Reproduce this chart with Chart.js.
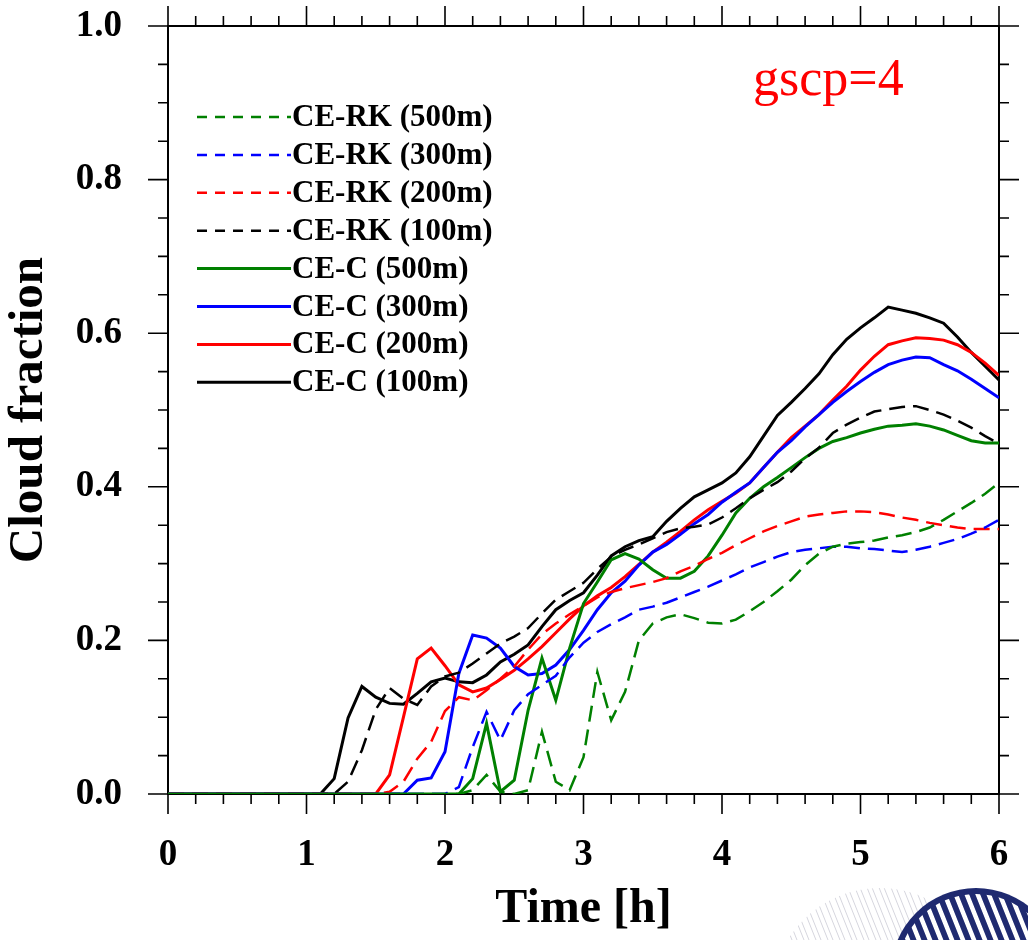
<!DOCTYPE html>
<html lang="en">
<head>
  <meta charset="UTF-8">
  <title>Cloud fraction, gscp=4</title>
  <script src="https://cdn.jsdelivr.net/npm/chart.js"></script>
  <style>
    body { margin: 0; background: #fff; }
    #wrap { width: 1028px; height: 940px; position: relative; }
  </style>
</head>
<body>

<div id="wrap"><canvas id="myChart"></canvas></div>

<script>
  // time axis [h], one value every 6 minutes
  const times = [
    0.0, 0.1, 0.2, 0.3, 0.4, 0.5, 0.6, 0.7, 0.8, 0.9,
    1.0, 1.1, 1.2, 1.3, 1.4, 1.5, 1.6, 1.7, 1.8, 1.9,
    2.0, 2.1, 2.2, 2.3, 2.4, 2.5, 2.6, 2.7, 2.8, 2.9,
    3.0, 3.1, 3.2, 3.3, 3.4, 3.5, 3.6, 3.7, 3.8, 3.9,
    4.0, 4.1, 4.2, 4.3, 4.4, 4.5, 4.6, 4.7, 4.8, 4.9,
    5.0, 5.1, 5.2, 5.3, 5.4, 5.5, 5.6, 5.7, 5.8, 5.9,
    6.0
  ];

  const xTicks = [0, 1, 2, 3, 4, 5, 6];
  const yTicks = [0.0, 0.2, 0.4, 0.6, 0.8, 1.0];

  // cloud fraction, CE-RK runs
  const ceRk500 = [
    0, 0, 0, 0, 0, 0, 0, 0, 0, 0,
    0, 0, 0, 0, 0, 0, 0, 0, 0, 0,
    0, 0, 0.005, 0.025, 0.003, 0, 0.005, 0.081, 0.016, 0.005,
    0.048, 0.159, 0.096, 0.133, 0.2, 0.222, 0.23, 0.234, 0.229, 0.223,
    0.222, 0.227, 0.238, 0.25, 0.264, 0.279, 0.298, 0.313, 0.322, 0.326,
    0.328, 0.33, 0.334, 0.337, 0.341, 0.347, 0.357, 0.368, 0.379, 0.391,
    0.405
  ];
  const ceRk300 = [
    0, 0, 0, 0, 0, 0, 0, 0, 0, 0,
    0, 0, 0, 0, 0, 0, 0, 0, 0, 0,
    0, 0.009, 0.061, 0.107, 0.07, 0.109, 0.13, 0.142, 0.154, 0.178,
    0.197, 0.211, 0.221, 0.23, 0.24, 0.244, 0.249, 0.256, 0.263, 0.27,
    0.278, 0.286, 0.295, 0.302, 0.309, 0.315, 0.318, 0.32, 0.322, 0.322,
    0.32, 0.319, 0.317, 0.315, 0.318, 0.322, 0.327, 0.332, 0.339, 0.347,
    0.357
  ];
  const ceRk200 = [
    0, 0, 0, 0, 0, 0, 0, 0, 0, 0,
    0, 0, 0, 0, 0, 0, 0.003, 0.016, 0.046, 0.068,
    0.108, 0.126, 0.122, 0.135, 0.15, 0.166, 0.188, 0.208, 0.222, 0.234,
    0.245, 0.256, 0.263, 0.268, 0.272, 0.276, 0.281, 0.29, 0.297, 0.306,
    0.314, 0.324, 0.333, 0.342, 0.349, 0.355, 0.361, 0.364, 0.366, 0.368,
    0.368, 0.367, 0.364, 0.36, 0.357, 0.353, 0.35, 0.347, 0.345, 0.345,
    0.345
  ];
  const ceRk100 = [
    0, 0, 0, 0, 0, 0, 0, 0, 0, 0,
    0, 0, 0, 0.016, 0.057, 0.11, 0.138, 0.124, 0.116, 0.14,
    0.153, 0.158, 0.17, 0.183, 0.196, 0.205, 0.216, 0.235, 0.253, 0.264,
    0.275, 0.293, 0.309, 0.318, 0.325, 0.333, 0.341, 0.346, 0.348, 0.351,
    0.36, 0.372, 0.385, 0.396, 0.406, 0.42, 0.437, 0.451, 0.47, 0.481,
    0.49, 0.498, 0.501, 0.504, 0.505, 0.5, 0.494, 0.486, 0.477, 0.466,
    0.456
  ];

  // cloud fraction, CE-C runs
  const ceC500 = [
    0, 0, 0, 0, 0, 0, 0, 0, 0, 0,
    0, 0, 0, 0, 0, 0, 0, 0, 0, 0,
    0, 0, 0.02, 0.092, 0.003, 0.018, 0.109, 0.177, 0.122, 0.19,
    0.248, 0.276, 0.305, 0.313, 0.306, 0.292, 0.281, 0.281, 0.29, 0.31,
    0.337, 0.366, 0.385, 0.4, 0.412, 0.425, 0.438, 0.45, 0.459, 0.464,
    0.47, 0.475, 0.479, 0.48, 0.482, 0.479, 0.474, 0.467, 0.46, 0.457,
    0.457
  ];
  const ceC300 = [
    0, 0, 0, 0, 0, 0, 0, 0, 0, 0,
    0, 0, 0, 0, 0, 0, 0, 0, 0.018, 0.021,
    0.055, 0.157, 0.207, 0.203, 0.19, 0.166, 0.155, 0.157, 0.168, 0.188,
    0.213, 0.24, 0.262, 0.277, 0.298, 0.315, 0.325, 0.338, 0.352, 0.364,
    0.38, 0.393, 0.405, 0.425, 0.445, 0.46, 0.478, 0.494, 0.51, 0.524,
    0.537, 0.549, 0.559, 0.565, 0.569, 0.568, 0.559, 0.551, 0.54, 0.528,
    0.516
  ];
  const ceC200 = [
    0, 0, 0, 0, 0, 0, 0, 0, 0, 0,
    0, 0, 0, 0, 0, 0, 0.025, 0.1, 0.176, 0.19,
    0.167, 0.142, 0.133, 0.138, 0.149, 0.161, 0.176, 0.192, 0.21, 0.228,
    0.245, 0.258, 0.269, 0.283, 0.299, 0.315, 0.328, 0.342, 0.357, 0.37,
    0.381, 0.392, 0.405, 0.425, 0.445, 0.464, 0.479, 0.494, 0.513, 0.531,
    0.552, 0.57, 0.585, 0.59, 0.594, 0.593, 0.591, 0.585, 0.575, 0.561,
    0.545
  ];
  const ceC100 = [
    0, 0, 0, 0, 0, 0, 0, 0, 0, 0,
    0, 0, 0.02, 0.099, 0.14, 0.126, 0.118, 0.117, 0.131, 0.146,
    0.151, 0.146, 0.145, 0.155, 0.172, 0.182, 0.194, 0.218, 0.24, 0.252,
    0.262, 0.285, 0.31, 0.322, 0.33, 0.335, 0.355, 0.372, 0.387, 0.396,
    0.405, 0.418, 0.439, 0.466, 0.493, 0.51, 0.528, 0.547, 0.572, 0.592,
    0.607, 0.62, 0.634, 0.63, 0.626, 0.62, 0.613, 0.595, 0.575, 0.557,
    0.539
  ];

  const FONT = '"Liberation Serif", "Times New Roman", serif';
  const GREEN = '#008000', BLUE = '#0000ff', RED = '#ff0000', BLACK = '#000000';

  const series = [
    { label: 'CE-RK (500m)', values: ceRk500, color: GREEN, dashed: true },
    { label: 'CE-RK (300m)', values: ceRk300, color: BLUE, dashed: true },
    { label: 'CE-RK (200m)', values: ceRk200, color: RED, dashed: true },
    { label: 'CE-RK (100m)', values: ceRk100, color: BLACK, dashed: true },
    { label: 'CE-C (500m)', values: ceC500, color: GREEN, dashed: false },
    { label: 'CE-C (300m)', values: ceC300, color: BLUE, dashed: false },
    { label: 'CE-C (200m)', values: ceC200, color: RED, dashed: false },
    { label: 'CE-C (100m)', values: ceC100, color: BLACK, dashed: false }
  ];

  const datasets = series.map(s => ({
    label: s.label,
    data: s.values.map((v, i) => ({ x: times[i], y: v })),
    borderColor: s.color,
    backgroundColor: s.color,
    borderWidth: s.dashed ? 2.5 : 3,
    borderDash: s.dashed ? [16, 8] : [],
    pointRadius: 0,
    tension: 0,
    fill: false
  }));

  // frame with outward major/minor tick marks on all four sides
  const framePlugin = {
    id: 'frame',
    beforeDatasetsDraw(chart) {
      const { ctx, chartArea: a, scales: { x, y } } = chart;
      ctx.save();
      ctx.strokeStyle = '#000';
      ctx.lineWidth = 2;
      ctx.strokeRect(a.left, a.top, a.right - a.left, a.bottom - a.top);
      ctx.lineWidth = 1.6;
      ctx.beginPath();
      for (let i = 0; i <= 30; i++) {
        const px = x.getPixelForValue(i / 5);
        const len = i % 5 === 0 ? 20 : 10;
        ctx.moveTo(px, a.bottom); ctx.lineTo(px, a.bottom + len);
        ctx.moveTo(px, a.top); ctx.lineTo(px, a.top - len);
      }
      for (let i = 0; i <= 20; i++) {
        const py = y.getPixelForValue(i / 20);
        const len = i % 4 === 0 ? 20 : 10;
        ctx.moveTo(a.left, py); ctx.lineTo(a.left - len, py);
        ctx.moveTo(a.right, py); ctx.lineTo(a.right + len, py);
      }
      ctx.stroke();
      ctx.restore();
    }
  };

  // line legend inside the plot + the gscp label
  const legendPlugin = {
    id: 'lineLegend',
    afterDatasetsDraw(chart) {
      const ctx = chart.ctx;
      ctx.save();
      chart.data.datasets.forEach((ds, i) => {
        const yy = 117 + i * 37.9;
        ctx.beginPath();
        ctx.strokeStyle = ds.borderColor;
        ctx.lineWidth = ds.borderWidth;
        ctx.setLineDash(ds.borderDash.length ? [10, 8] : []);
        ctx.moveTo(197, yy);
        ctx.lineTo(291, yy);
        ctx.stroke();
        ctx.setLineDash([]);
        ctx.fillStyle = '#000';
        ctx.font = 'bold 31px ' + FONT;
        ctx.textBaseline = 'middle';
        ctx.textAlign = 'left';
        ctx.fillText(ds.label, 292, yy + 1);
      });
      ctx.fillStyle = RED;
      ctx.font = '52px ' + FONT;
      ctx.textBaseline = 'alphabetic';
      ctx.fillText('gscp=4', 753, 95);
      ctx.restore();
    }
  };

  // the striped round logo cut off in the bottom right corner
  const logoPlugin = {
    id: 'logo',
    afterDraw(chart) {
      const ctx = chart.ctx;
      ctx.save();
      ctx.beginPath();
      ctx.arc(880, 996, 108, 0, Math.PI * 2);
      ctx.clip();
      ctx.strokeStyle = '#d6d6de';
      ctx.lineWidth = 1;
      ctx.beginPath();
      for (let k = -200; k < 300; k += 12) {
        ctx.moveTo(760 + k, 870); ctx.lineTo(760 + k + 36, 960);
        ctx.moveTo(765 + k, 870); ctx.lineTo(765 + k + 36, 960);
      }
      ctx.stroke();
      ctx.restore();

      ctx.save();
      ctx.beginPath();
      ctx.arc(976, 973, 85, 0, Math.PI * 2);
      ctx.fillStyle = '#1f2a70';
      ctx.fill();
      ctx.beginPath();
      ctx.arc(976, 973, 79, 0, Math.PI * 2);
      ctx.clip();
      ctx.strokeStyle = '#ffffff';
      ctx.lineWidth = 4.5;
      ctx.beginPath();
      for (let k = -200; k < 300; k += 11) {
        ctx.moveTo(860 + k, 870); ctx.lineTo(860 + k + 36, 960);
      }
      ctx.stroke();
      ctx.restore();
    }
  };

  const config = {
    type: 'line',
    data: { datasets: datasets },
    options: {
      responsive: true,
      maintainAspectRatio: false,
      animation: false,
      layout: { padding: { top: 26, right: 29, bottom: 0, left: 0 } },
      plugins: {
        legend: { display: false },
        tooltip: { enabled: false }
      },
      scales: {
        x: {
          type: 'linear',
          min: xTicks[0],
          max: xTicks[xTicks.length - 1],
          // invisible tick marks only reserve the gap between axis and labels
          grid: { display: false, drawTicks: true, tickLength: 39 },
          border: { display: false },
          afterBuildTicks: s => { s.ticks = xTicks.map(v => ({ value: v })); },
          afterFit: s => { s.height = 146; },
          ticks: {
            padding: 0,
            color: '#000',
            maxRotation: 0,
            autoSkip: false,
            font: { family: FONT, size: 37, weight: 'bold' },
            callback: v => String(v)
          },
          title: {
            display: true,
            text: 'Time [h]',
            color: '#000',
            font: { family: FONT, size: 48, weight: 'bold' },
            padding: { top: 0, bottom: 2 }
          }
        },
        y: {
          min: yTicks[0],
          max: yTicks[yTicks.length - 1],
          grid: { display: false, drawTicks: true, tickLength: 46 },
          border: { display: false },
          afterBuildTicks: s => { s.ticks = yTicks.map(v => ({ value: v })); },
          afterFit: s => { s.width = 168; },
          ticks: {
            padding: 0,
            color: '#000',
            font: { family: FONT, size: 37, weight: 'bold' },
            callback: v => Number(v).toFixed(1)
          },
          title: {
            display: true,
            text: 'Cloud fraction',
            color: '#000',
            font: { family: FONT, size: 49, weight: 'bold' },
            padding: { top: 0, bottom: 0 }
          }
        }
      }
    },
    plugins: [framePlugin, legendPlugin, logoPlugin]
  };

  const ctx = document.getElementById('myChart').getContext('2d');
  new Chart(ctx, config);
</script>

</body>
</html>
